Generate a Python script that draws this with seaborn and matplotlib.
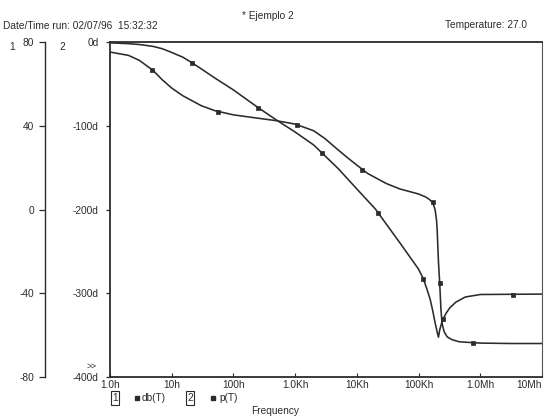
import matplotlib
matplotlib.use("Agg")
import matplotlib.pyplot as plt
import seaborn as sns
import pandas as pd
from matplotlib.lines import Line2D
from matplotlib.ticker import NullLocator

# ---------------- data ----------------
db_freq = [1, 2, 3, 5, 7, 10, 15, 20, 30, 50, 100, 250, 500, 1000, 2000, 5000,
           1e4, 2e4, 5e4, 1e5, 1.2e5, 1.4e5, 1.55e5, 1.7e5, 1.85e5, 2.0e5,
           2.1e5, 2.2e5, 2.35e5, 2.5e5, 2.8e5, 3.2e5, 4e5, 5.7e5, 1e6, 3e6, 1e7]
db_vals = [79.6, 79.2, 78.8, 77.9, 76.8, 75.0, 72.8, 70.6, 67.2, 62.8, 57.1,
           48.7, 42.7, 37.0, 30.8, 19.5, 9.8, 0.2, -16.0, -28.5, -33.2, -39.0,
           -43.2, -48.5, -54.0, -58.5, -61.0, -57.5, -54.5, -52.3, -49.5,
           -47.0, -44.3, -41.8, -40.6, -40.5, -40.4]

ph_freq = [1, 2, 3, 5, 7, 10, 15, 20, 30, 50, 100, 250, 500, 1000, 2000, 3000,
           5000, 7000, 1e4, 1.5e4, 2e4, 3e4, 5e4, 1e5, 1.3e5, 1.5e5, 1.7e5,
           1.85e5, 1.95e5, 2.0e5, 2.1e5, 2.2e5, 2.3e5, 2.4e5, 2.6e5, 2.9e5,
           3.5e5, 4.6e5, 7.6e5, 1e6, 3e6, 1e7]
ph_vals = [-12, -16, -22, -34, -45, -55, -64, -69, -76, -82, -87, -91, -94,
           -98, -106, -115, -129, -138, -147, -157, -162, -169, -175.5,
           -181.5, -185, -188, -192, -200, -212, -224, -262, -288, -318,
           -336, -346, -352, -355.5, -358, -359, -359.5, -360, -360]

db_mark_freq = [21, 250, 2730, 22000, 118000, 249000, 3.4e6]
db_mark_vals = [70.0, 48.5, 27.0, -1.7, -33.2, -52.3, -40.8]
ph_mark_freq = [4.8, 56, 1074, 12100, 172000, 223000, 764000]
ph_mark_vals = [-33.4, -83.6, -99.1, -152.8, -191, -288, -359.4]

x_ticks = [1, 10, 100, 1e3, 1e4, 1e5, 1e6, 1e7]
x_labels = ["1.0h", "10h", "100h", "1.0Kh", "10Kh", "100Kh", "1.0Mh", "10Mh"]
db_ticks = [80, 40, 0, -40, -80]
db_labels = ["80", "40", "0", "-40", "-80"]
ph_ticks = [0, -100, -200, -300, -400]
ph_labels = ["0d", "-100d", "-200d", "-300d", "-400d"]

# ---------------- styling ----------------
sns.set_theme(style="white")
plt.rcParams['font.family'] = ['Liberation Sans', 'DejaVu Sans']
plt.rcParams['axes.unicode_minus'] = False
ink = '#2b2b2b'
fs = 7.3

W, H = 548, 418
fig = plt.figure(figsize=(W / 100, H / 100), dpi=100)
fig.patch.set_facecolor('white')
L, R, T, B = 110, 542, 42, 377
ax = fig.add_axes([L / W, 1 - B / H, (R - L) / W, (B - T) / H])
ax.set_xscale('log')
ax2 = ax.twinx()

df_ph = pd.DataFrame({'f': ph_freq, 'v': ph_vals})
df_db = pd.DataFrame({'f': db_freq, 'v': db_vals})
sns.lineplot(data=df_ph, x='f', y='v', ax=ax, color=ink, lw=1.15,
             sort=False, estimator=None)
sns.lineplot(data=df_db, x='f', y='v', ax=ax2, color=ink, lw=1.15,
             sort=False, estimator=None)
sns.scatterplot(x=ph_mark_freq, y=ph_mark_vals, ax=ax, marker='s', s=10,
                color=ink, edgecolor=ink, linewidth=0.5, zorder=5)
sns.scatterplot(x=db_mark_freq, y=db_mark_vals, ax=ax2, marker='s', s=10,
                color=ink, edgecolor=ink, linewidth=0.5, zorder=5)

ax.set_xlim(1, 1e7)
ax.set_ylim(-400, 0)
ax2.set_ylim(-80, 80)
for a in (ax, ax2):
    a.set_xlabel('')
    a.set_ylabel('')
    a.set_facecolor('none')

# frame
for side in ('top', 'bottom', 'left'):
    ax.spines[side].set_visible(True)
    ax.spines[side].set_color(ink)
    ax.spines[side].set_linewidth(1.3)
ax.spines['right'].set_color('#555555')
ax.spines['right'].set_linewidth(0.8)

ax.set_xticks(x_ticks)
ax.set_xticklabels(x_labels)
ax.xaxis.set_minor_locator(NullLocator())
ax.tick_params(axis='x', direction='in', length=3, width=0.8, pad=2,
               labelsize=fs, colors=ink, bottom=True)
# last label pulled inside the figure edge
ax.get_xticklabels()[-1].set_horizontalalignment('right')
ax.get_xticklabels()[-1].set_x(1e7)
ax.get_xticklabels()[0].set_horizontalalignment('center')

ax.set_yticks(ph_ticks)
ax.set_yticklabels(ph_labels)
ax.tick_params(axis='y', direction='out', length=3, width=0.9, pad=5,
               labelsize=fs, colors=ink, left=True)

# left axis "1" (dB)
ax2.spines['right'].set_visible(False)
ax2.spines['top'].set_visible(False)
ax2.spines['bottom'].set_visible(False)
ax2.spines['left'].set_visible(True)
ax2.spines['left'].set_position(('outward', 65 * 0.72))
ax2.spines['left'].set_color(ink)
ax2.spines['left'].set_linewidth(1.0)
ax2.yaxis.set_ticks_position('left')
ax2.yaxis.set_label_position('left')
ax2.set_yticks(db_ticks)
ax2.set_yticklabels(db_labels)
ax2.tick_params(axis='y', direction='out', length=4, width=0.9, pad=4,
                labelsize=fs, colors=ink, left=True, right=False,
                labelleft=True, labelright=False)

# texts
fig.text(3 / W, 1 - 26 / H, "Date/Time run: 02/07/96  15:32:32",
         ha='left', va='center', fontsize=fs, color=ink)
fig.text(268 / W, 1 - 16 / H, "* Ejemplo 2", ha='center', va='center',
         fontsize=fs, color=ink)
fig.text(527 / W, 1 - 25 / H, "Temperature: 27.0", ha='right', va='center',
         fontsize=fs, color=ink)
fig.text(12 / W, 1 - 47 / H, "1", ha='center', va='center', fontsize=fs, color=ink)
fig.text(62 / W, 1 - 47 / H, "2", ha='center', va='center', fontsize=fs, color=ink)
fig.text(92 / W, 1 - 366 / H, ">>", ha='center', va='center', fontsize=fs - 1,
         color=ink)
fig.text(275 / W, 1 - 411 / H, "Frequency", ha='center', va='center',
         fontsize=fs, color=ink)

# legend row
box = dict(boxstyle='square,pad=0.15', fc='none', ec=ink, lw=0.8)
fig.text(115 / W, 1 - 398 / H, "1", ha='center', va='center', fontsize=fs,
         color=ink, bbox=box)
fig.text(190 / W, 1 - 398 / H, "2", ha='center', va='center', fontsize=fs,
         color=ink, bbox=box)
for mx in (137, 213):
    fig.add_artist(Line2D([mx / W], [1 - 398 / H], marker='s', markersize=2.8,
                          color=ink, transform=fig.transFigure))
fig.text(142 / W, 1 - 398 / H, "db(T)", ha='left', va='center', fontsize=fs,
         color=ink)
fig.text(219 / W, 1 - 398 / H, "p(T)", ha='left', va='center', fontsize=fs,
         color=ink)

fig.savefig("out.png", dpi=100, facecolor='white')
